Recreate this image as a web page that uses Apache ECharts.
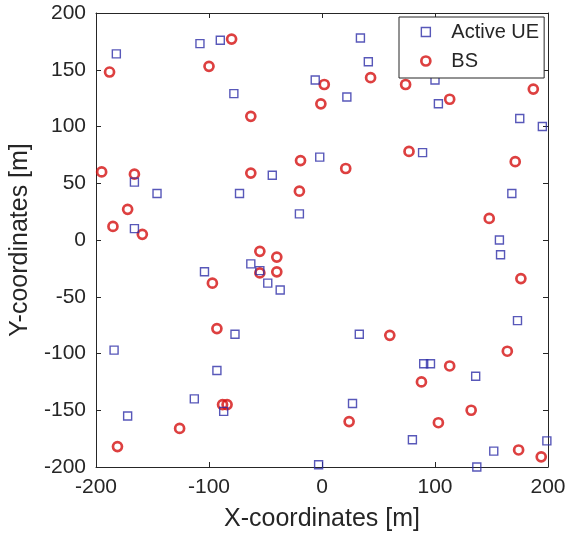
<!DOCTYPE html>
<html>
<head>
<meta charset="utf-8">
<script src="https://cdn.jsdelivr.net/npm/echarts@6/dist/echarts.min.js"></script>
<style>html,body{margin:0;padding:0;background:#fff;}#c{width:566px;height:543px;}</style>
</head>
<body>
<div id="c"></div>
<script>
const xTicks = [-200, -100, 0, 100, 200];
const yTicks = [-200, -150, -100, -50, 0, 50, 100, 150, 200];
const ueX = [-182,-108,-90,-78,-6,34,41,22,100,103,175,195,-166,-146,-166,-44,-73,-2,-20,89,168,157,158,-63,-55,-48,-37,-104,-77,-184,-93,-113,-87,-172,-3,33,90,96,136,173,27,80,152,199,137];
const ueY = [164,173,176,129,141,178,157,126,141,120,107,100,51,41,10,57,41,73,23,77,41,0,-13,-21,-27,-38,-44,-28,-83,-97,-115,-140,-151,-155,-198,-83,-109,-109,-120,-71,-144,-176,-186,-177,-200];
const bsX = [-188,-80,-100,-63,2,-1,43,74,113,187,-195,-166,-172,-185,-159,-63,-19,-20,21,77,171,148,-55,-40,-55,-40,-97,-93,-88,-84,-126,-181,176,164,60,113,88,132,24,103,174,194];
const bsY = [148,177,153,109,137,120,143,137,124,133,60,58,27,12,5,59,70,43,63,78,69,19,-10,-15,-29,-28,-38,-78,-145,-145,-166,-182,-34,-98,-84,-111,-125,-150,-160,-161,-185,-191];

const ueData = ueX.map((v, i) => [v, ueY[i]]);
const bsData = bsX.map((v, i) => [v, bsY[i]]);

const txt = '#262626';
const blue = '#2e2ea8';
const red = '#d41010';
const font = 'Liberation Sans, Arial, sans-serif';
const chart = echarts.init(document.getElementById('c'), null, {renderer: 'canvas'});
const axisCommon = {
  axisLine: {show: true, onZero: false, lineStyle: {color: txt, width: 1}},
  axisTick: {show: true, inside: true, length: 5, lineStyle: {color: txt}},
  splitLine: {show: false}
};
const ueStyle = {color: 'rgba(0,0,0,0)', borderColor: blue, borderWidth: 1.4};
const bsStyle = {color: 'rgba(0,0,0,0)', borderColor: red, borderWidth: 2.7};
chart.setOption({
  animation: false,
  backgroundColor: '#fff',
  grid: {left: 96, right: 18, top: 13, bottom: 76, containLabel: false, outerBoundsMode: 'none'},
  legend: {
    orient: 'vertical', left: 399, top: 17,
    data: [
      {name: 'Active UE', icon: 'rect', itemStyle: ueStyle},
      {name: 'BS', icon: 'circle', itemStyle: bsStyle}
    ],
    itemWidth: 9, itemHeight: 9, itemGap: 7,
    padding: [4, 5, 6, 21],
    borderColor: txt, borderWidth: 1, backgroundColor: '#fff',
    textStyle: {color: txt, fontSize: 20, fontFamily: font, lineHeight: 22, padding: [0, 0, 0, 16]}
  },
  xAxis: [
    Object.assign({
      type: 'value', min: -200, max: 200, interval: 100, position: 'bottom',
      name: 'X-coordinates [m]', nameLocation: 'middle', nameGap: 40,
      nameTextStyle: {color: txt, fontSize: 25, fontFamily: font},
      axisLabel: {color: txt, fontSize: 21, fontFamily: font, margin: 10,
        formatter: v => xTicks.includes(v) ? String(v) : ''}
    }, axisCommon),
    Object.assign({
      type: 'value', min: -200, max: 200, interval: 100, position: 'top',
      axisLabel: {show: false}
    }, axisCommon)
  ],
  yAxis: [
    Object.assign({
      type: 'value', min: -200, max: 200, interval: 50, position: 'left',
      name: 'Y-coordinates [m]', nameLocation: 'middle', nameGap: 55,
      nameTextStyle: {color: txt, fontSize: 25, fontFamily: font},
      axisLabel: {color: txt, fontSize: 21, fontFamily: font, margin: 10,
        formatter: v => yTicks.includes(v) ? String(v) : ''}
    }, axisCommon),
    Object.assign({
      type: 'value', min: -200, max: 200, interval: 50, position: 'right',
      axisLabel: {show: false}
    }, axisCommon)
  ],
  series: [
    {
      name: 'Active UE', type: 'scatter', symbol: 'rect', symbolSize: 8,
      xAxisIndex: 0, yAxisIndex: 0, data: ueData,
      itemStyle: ueStyle, emphasis: {disabled: true}, z: 3
    },
    {
      name: 'BS', type: 'scatter', symbol: 'circle', symbolSize: 9,
      xAxisIndex: 0, yAxisIndex: 0, data: bsData,
      itemStyle: bsStyle, emphasis: {disabled: true}, z: 2
    }
  ]
});
</script>
</body>
</html>
